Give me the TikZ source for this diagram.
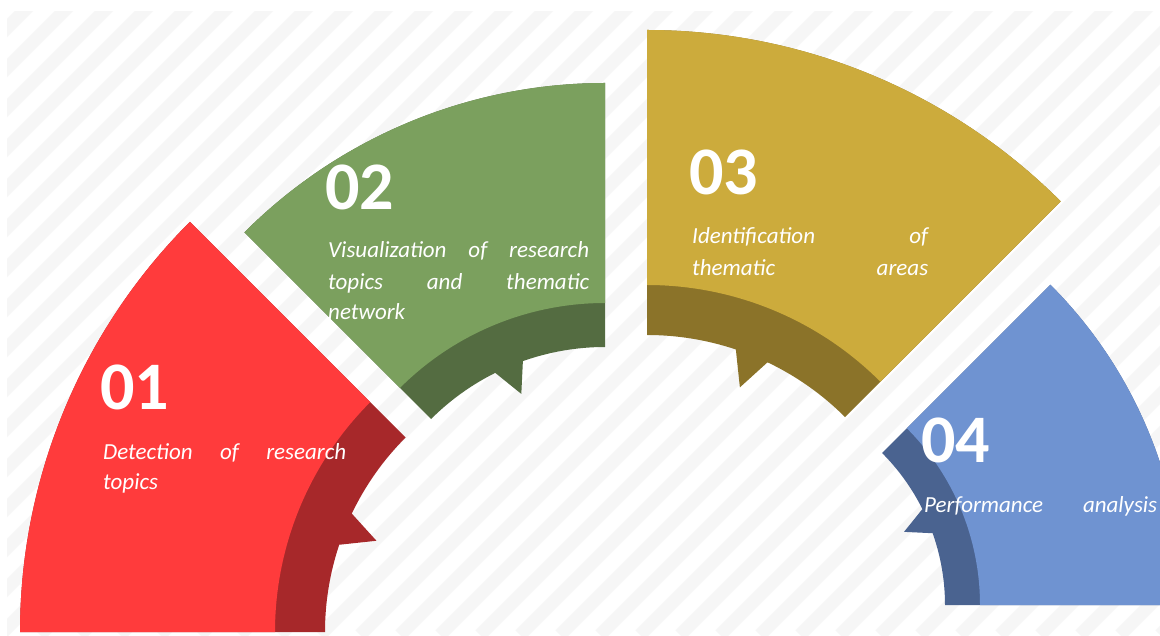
\documentclass[tikz,border=0pt]{standalone}
\usepackage{fontspec}
\setmainfont{Carlito}
\definecolor{redL}{HTML}{FF3B3C}
\definecolor{redD}{HTML}{A7282A}
\definecolor{grnL}{HTML}{7BA05E}
\definecolor{grnD}{HTML}{546C41}
\definecolor{yelL}{HTML}{CCAB3C}
\definecolor{yelD}{HTML}{8B7329}
\definecolor{bluL}{HTML}{6F93D1}
\definecolor{bluD}{HTML}{4A6390}
\definecolor{stripecol}{HTML}{F6F6F6}
\newcommand{\drawsector}[7]{%
  % #1,#2 centre; #3 outer radius; #4 inner radius; #5 band radius; #6 start angle; #7 colour prefix
  \begin{scope}[shift={(#1,#2)}]
    \fill[#7D] (#6:#4) -- (#6:#3) arc[start angle=#6, end angle=#6+45, radius=#3pt]
      -- (#6+45:#4) arc[start angle=#6+45, end angle=#6+26.5, radius=#4pt]
      -- (#6+22.8:0.878*#4) -- (#6+19.5:#4)
      arc[start angle=#6+19.5, end angle=#6, radius=#4pt] -- cycle;
    \fill[#7L] (#6:#5) -- (#6:#3) arc[start angle=#6, end angle=#6+45, radius=#3pt]
      -- (#6+45:#5) arc[start angle=#6+45, end angle=#6, radius=#5pt] -- cycle;
  \end{scope}}
\tikzset{
  num/.style={font=\bfseries\fontsize{68}{68}\selectfont, text=white, inner sep=0pt, anchor=base west},
  desc/.style={font=\itshape\fontsize{23}{31}\selectfont, text=white, inner sep=0pt, anchor=base west},
  stripe/.style={draw=stripecol, line width=13pt}
}
\begin{document}
\begin{tikzpicture}[x=1pt,y=1pt]
\useasboundingbox (0,0) rectangle (1160,635);
\clip (0,0) rectangle (1160,635);
\fill[white] (0,0) rectangle (1160,635);
\begin{scope}
  \clip (7,0) rectangle (1160,623);
  \foreach \k in {-18,...,30} { \draw[stripe] (\k*40,0) -- ++(700,700); }
\end{scope}
% sectors
\drawsector{600}{3}{580}{275}{325}{135}{red}
\drawsector{605}{42}{510}{246}{290}{90}{grn}
\drawsector{647}{20}{585}{280}{330}{45}{yel}
\drawsector{730}{30}{453}{215}{250}{0}{blu}
% texts
\node[num] (n1) at (100,225) {01};
\node[desc] (d1a) at (103,175) {\makebox[243pt]{Detection\hfill of\hfill research}};
\node[desc] (d1b) at (103,145) {topics};
\node[num] (n2) at (325,425) {02};
\node[desc] (d2a) at (328,377) {\makebox[261pt]{Visualization\hfill of\hfill research}};
\node[desc] (d2b) at (328,345) {\makebox[261pt]{topics\hfill and\hfill thematic}};
\node[desc] (d2c) at (328,315) {network};
\node[num] (n3) at (689,440) {03};
\node[desc] (d3a) at (692,391) {\makebox[236pt]{Identification\hfill of}};
\node[desc] (d3b) at (692,359) {\makebox[236pt]{thematic\hfill areas}};
\node[num] (n4) at (921,172) {04};
\node[desc] (d4a) at (924,122) {\makebox[233pt]{Performance\hfill analysis}};
\end{tikzpicture}
\end{document}
